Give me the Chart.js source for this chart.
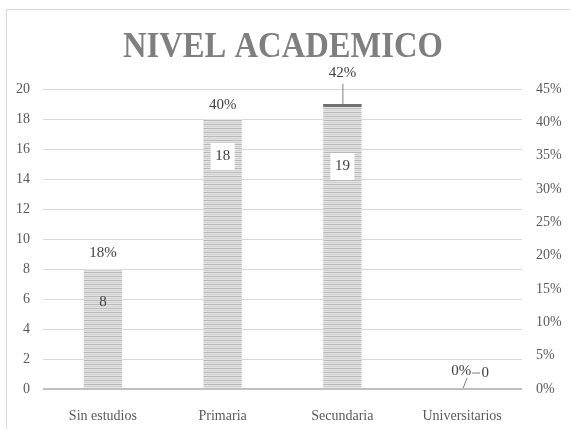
<!DOCTYPE html>
<html>
<head>
<meta charset="utf-8">
<script src="https://cdn.jsdelivr.net/npm/chart.js@4.4.0/dist/chart.umd.min.js"></script>
<style>
  html, body { margin: 0; padding: 0; background: #fff; }
  #wrap { width: 570px; height: 429px; position: relative; }
</style>
</head>
<body>
<div id="wrap"><canvas id="nivelChart"></canvas></div>
<script>
// datos
const categorias = ["Sin estudios", "Primaria", "Secundaria", "Universitarios"];
const cantidades = [8, 18, 19, 0];
const porcentajes = [17.8, 40, 42.2, 0];
const porcentajeTexto = ["18%", "40%", "42%", "0%"];
const ticksIzq = [0, 2, 4, 6, 8, 10, 12, 14, 16, 18, 20];
const ticksDer = [0, 5, 10, 15, 20, 25, 30, 35, 40, 45];

const SERIF = '"Liberation Serif", "DejaVu Serif", serif';

// patron rayado de las barras
function crearPatron() {
    const c = document.createElement('canvas');
    c.width = 4; c.height = 4;
    const g = c.getContext('2d');
    g.fillStyle = '#e4e4e4';
    g.fillRect(0, 0, 4, 4);
    g.fillStyle = '#b8b8b8';
    g.fillRect(0, 0, 4, 1);
    g.fillStyle = '#cfcfcf';
    g.fillRect(0, 2, 4, 1);
    return g.createPattern(c, 'repeat');
}

// titulo, borde y etiquetas
const etiquetasPlugin = {
    id: 'etiquetas',
    afterDraw(chart) {
        const ctx = chart.ctx;
        const x = chart.scales.x;
        const y = chart.scales.y;
        const y1 = chart.scales.y1;

        ctx.save();
        // borde exterior
        ctx.strokeStyle = '#d9d9d9';
        ctx.lineWidth = 1;
        ctx.strokeRect(6.5, 9.5, 600, 500);

        // titulo
        ctx.fillStyle = '#7f7f7f';
        ctx.font = 'bold 36px ' + SERIF;
        ctx.textBaseline = 'alphabetic';
        ctx.textAlign = 'left';
        const titulo = 'NIVEL ACADEMICO';
        const w = ctx.measureText(titulo).width;
        const escala = 320 / w;
        ctx.save();
        ctx.translate(123, 57);
        ctx.scale(escala, 1);
        ctx.fillText(titulo, 0, 0);
        ctx.restore();

        // etiquetas de cantidad
        const offsets = [33, 37, 62];
        ctx.font = '15px ' + SERIF;
        ctx.textAlign = 'center';
        ctx.textBaseline = 'middle';
        cantidades.forEach((v, i) => {
            if (v === 0) return;
            const px = x.getPixelForValue(i);
            const py = y.getPixelForValue(v) + offsets[i];
            if (i > 0) {
                ctx.fillStyle = '#ffffff';
                ctx.fillRect(px - 12, py - 13, 24, 27);
            }
            ctx.fillStyle = '#404040';
            ctx.fillText(String(v), px, py);
        });

        // etiquetas de porcentaje
        porcentajes.forEach((p, i) => {
            const px = x.getPixelForValue(i);
            const py = y1.getPixelForValue(p);
            ctx.fillStyle = '#404040';
            if (i === 2) {
                ctx.fillText(porcentajeTexto[i], px, py - 35);
                ctx.strokeStyle = '#7f7f7f';
                ctx.beginPath();
                ctx.moveTo(px + 0.5, py - 24);
                ctx.lineTo(px + 0.5, py - 3);
                ctx.stroke();
            } else if (p === 0) {
                ctx.fillText(porcentajeTexto[i], px - 1, py - 18);
                ctx.strokeStyle = '#7f7f7f';
                ctx.beginPath();
                ctx.moveTo(px + 5, py - 11);
                ctx.lineTo(px + 1, py - 1);
                ctx.moveTo(px + 10, py - 16);
                ctx.lineTo(px + 18, py - 16);
                ctx.stroke();
                ctx.fillText(String(cantidades[i]), px + 23, py - 16);
            } else {
                ctx.fillText(porcentajeTexto[i], px, py - 17);
            }
        });

        // linea superior oscura de Secundaria
        const b = chart.getDatasetMeta(0).data[2];
        ctx.fillStyle = '#707070';
        ctx.fillRect(b.x - b.width / 2, b.y, b.width, 3);
        ctx.restore();
    }
};

document.addEventListener('DOMContentLoaded', function() {
    const canvas = document.getElementById('nivelChart');
    const ctx = canvas.getContext('2d');
    const patron = crearPatron();

    new Chart(ctx, {
        type: 'bar',
        data: {
            labels: categorias,
            datasets: [
                {
                    label: 'Cantidad',
                    data: cantidades,
                    backgroundColor: patron,
                    borderWidth: 0,
                    categoryPercentage: 1,
                    barPercentage: 0.32,
                    yAxisID: 'y',
                    order: 2
                },
                {
                    type: 'line',
                    label: 'Porcentaje',
                    data: porcentajes,
                    showLine: false,
                    pointRadius: 0,
                    yAxisID: 'y1',
                    order: 1
                }
            ]
        },
        options: {
            responsive: true,
            maintainAspectRatio: false,
            animation: false,
            layout: { padding: { left: 0, right: 0, top: 89, bottom: 0 } },
            plugins: {
                legend: { display: false },
                title: { display: false },
                tooltip: { enabled: false }
            },
            scales: {
                x: {
                    grid: { display: false },
                    border: { display: false },
                    ticks: {
                        color: '#595959',
                        font: { family: SERIF, size: 14 },
                        padding: 11
                    },
                    afterFit(scale) { scale.height = 40; }
                },
                y: {
                    position: 'left',
                    min: 0,
                    max: 20,
                    afterBuildTicks(scale) { scale.ticks = ticksIzq.map(v => ({ value: v })); },
                    grid: {
                        color: ctx => ctx.tick && ctx.tick.value === 0 ? '#bfbfbf' : '#d9d9d9',
                        lineWidth: ctx => ctx.tick && ctx.tick.value === 0 ? 2 : 1,
                        drawTicks: false
                    },
                    border: { display: false },
                    ticks: {
                        color: '#595959',
                        font: { family: SERIF, size: 14 },
                        padding: 13
                    },
                    afterFit(scale) { scale.width = 43; }
                },
                y1: {
                    position: 'right',
                    min: 0,
                    max: 45,
                    afterBuildTicks(scale) { scale.ticks = ticksDer.map(v => ({ value: v })); },
                    grid: { display: false, drawTicks: false },
                    border: { display: false },
                    ticks: {
                        color: '#595959',
                        font: { family: SERIF, size: 14 },
                        padding: 14,
                        callback: v => v + '%'
                    },
                    afterFit(scale) { scale.width = 48; }
                }
            }
        },
        plugins: [etiquetasPlugin]
    });
});
</script>
</body>
</html>
